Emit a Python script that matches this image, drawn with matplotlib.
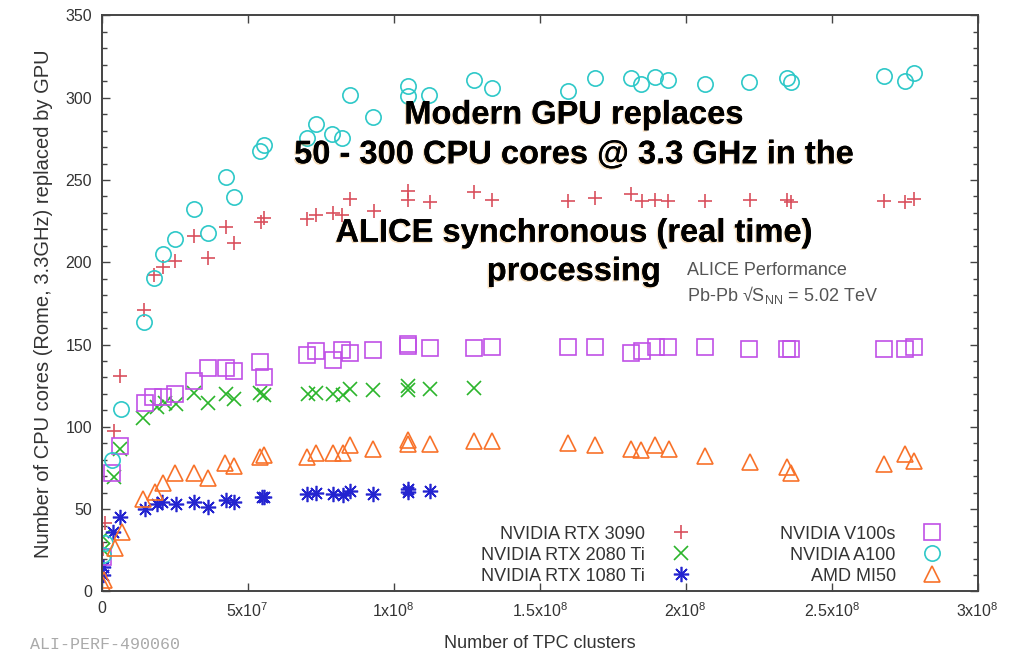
import numpy as np
import matplotlib
matplotlib.use('Agg')
from matplotlib import pyplot as plt
from matplotlib import patheffects

plt.rcParams['font.family'] = ['Liberation Sans', 'DejaVu Sans']
plt.rcParams['mathtext.default'] = 'regular'

# number of TPC clusters (in millions) and CPU cores replaced, per GPU
x3090 = [0.3, 1.1, 4.3, 6.3, 14.5, 18.0, 20.9, 25.1, 31.7, 36.4, 42.6, 45.2, 54.4, 55.6, 70.4, 73.4, 79.1, 82.4, 85.0,
         93.2, 104.8, 105.0, 112.3, 127.4, 133.7, 159.7, 168.8, 181.1, 184.9, 189.5, 194.0, 206.5, 221.9, 234.8,
         235.9, 267.9, 275.0, 278.3]
y3090 = [26, 41.8, 97.7, 131, 171, 192.3, 197.3, 201, 216, 202.8, 221.6, 211.5, 224.7, 226.7, 226.3, 229, 229.8,
         228.7, 238.3, 231.2, 243.5, 237.8, 236.6, 242.6, 238, 237, 239, 241.6, 237.5, 238, 237.5, 237.5, 238, 238,
         236.5, 237.5, 236.5, 238.6]

x2080 = [0.3, 0.6, 4.3, 6.3, 14.2, 18.8, 21.7, 25.4, 31.7, 36.5, 42.6, 45.3, 54.2, 55.6, 70.8, 73.4, 79.1, 82.5,
         85.0, 93.0, 105.0, 105.0, 112.4, 127.4]
y2080 = [25, 33, 69.7, 86.5, 105.2, 112.3, 114.3, 113.9, 120.4, 114.3, 119.8, 116.8, 120.4, 119.4, 119.8, 120.4,
         119.8, 119.4, 122.8, 122.4, 124.8, 122.4, 122.8, 123.4]

x1080 = [0.3, 0.5, 4.0, 6.3, 14.8, 18.8, 20.5, 25.4, 31.7, 36.5, 42.6, 45.3, 54.8, 55.6, 70.4, 73.4, 79.1, 82.5,
         85.0, 93.0, 105.0, 105.0, 112.4]
y1080 = [10, 15, 36.3, 45.4, 49.9, 53.2, 54.6, 53.2, 54.6, 51.5, 55.6, 54.6, 57.6, 57.6, 59.2, 60, 59.2, 58.6,
         61.2, 59.2, 62.1, 60.7, 61.2]

xv100 = [0.3, 3.6, 6.3, 14.8, 17.7, 20.9, 25.1, 31.7, 36.5, 42.6, 45.3, 54.2, 55.6, 70.4, 73.4, 79.1, 82.2, 85.0,
         93.0, 105.0, 105.0, 112.4, 127.4, 133.7, 159.7, 168.8, 181.1, 185.1, 189.7, 194.1, 206.5, 221.8, 234.8,
         236.2, 267.9, 275.0, 278.3]
yv100 = [21, 71.8, 88.4, 114.3, 118.3, 118.3, 120, 127.9, 135.6, 136, 134.1, 139.6, 130.5, 143.7, 146.3, 140.6,
         146.7, 144.7, 146.7, 150.2, 149, 147.7, 147.7, 148.3, 148.7, 148.3, 144.7, 146.1, 148.3, 148.3, 148.3,
         147.3, 147.3, 147.3, 147.3, 147.3, 148.3]

xa100 = [0.3, 1.1, 3.6, 6.6, 14.5, 18.0, 20.9, 25.1, 31.7, 36.4, 42.6, 45.2, 54.2, 55.6, 70.2, 73.4, 79.0, 82.4,
         85.0, 93.0, 104.8, 105.0, 112.2, 127.4, 133.7, 159.7, 168.8, 181.4, 184.7, 189.5, 193.9, 206.5, 221.8,
         234.8, 236.2, 267.9, 275.2, 278.3]
ya100 = [22, 29.3, 79.9, 110.7, 163.7, 190.6, 205, 214, 232.4, 218, 251.6, 239.5, 267.8, 271.3, 275.3, 283.8, 278,
         275.7, 301.6, 288, 307, 301, 301.5, 311, 306, 304, 312, 312.2, 308.6, 312.6, 311, 308.6, 309.6, 312, 309.6,
         313, 310, 314.7]

xmi50 = [0.5, 0.8, 4.6, 6.8, 14.2, 18.3, 20.9, 25.1, 31.7, 36.5, 42.2, 45.3, 54.2, 55.6, 70.4, 73.4, 79.1, 82.5,
         85.0, 93.0, 105.0, 105.0, 112.4, 127.4, 133.7, 159.7, 168.8, 181.1, 184.8, 189.5, 194.2, 206.5, 222.1,
         234.8, 236.2, 267.9, 275.0, 278.3]
ymi50 = [4, 7, 26.4, 36.3, 56.2, 60.6, 65.7, 71.8, 71.8, 68.8, 77.9, 76.4, 81.9, 82.9, 81.9, 84, 84, 84.3, 89,
         86.4, 92, 89.8, 89.6, 91.6, 91.6, 90, 89, 86.6, 86, 89, 86.6, 82.3, 78.9, 75.5, 71.8, 77.5, 83.5, 79.3]

xticks = [0, 5e7, 1e8, 1.5e8, 2e8, 2.5e8, 3e8]
xticklabels = ['0', '5x10$^7$', '1x10$^8$', '1.5x10$^8$', '2x10$^8$', '2.5x10$^8$', '3x10$^8$']

fig = plt.figure(figsize=(10.11, 6.54), dpi=100)
ax = fig.add_axes([0.1006, 0.0956, 0.8665, 0.8809])

series = [
    ('NVIDIA RTX 3090', x3090, y3090, '+', '#d9505e', 10),
    ('NVIDIA RTX 2080 Ti', x2080, y2080, 'x', '#2bb52b', 10),
    ('NVIDIA RTX 1080 Ti', x1080, y1080, (8, 2, 0), '#2424d0', 11),
    ('NVIDIA V100s', xv100, yv100, 's', '#c050e6', 11),
    ('NVIDIA A100', xa100, ya100, 'o', '#2ec8c8', 11),
    ('AMD MI50', xmi50, ymi50, '^', '#f8722a', 11),
]
for name, xs, ys, mk, col, ms in series:
    ax.plot(np.array(xs) * 1e6, ys, linestyle='none', marker=mk, markersize=ms,
            markerfacecolor='none', markeredgecolor=col, markeredgewidth=1.2, label=name)

ax.set_xlim(0, 3e8)
ax.set_ylim(0, 350)
ax.set_xticks(xticks)
ax.set_xticklabels(xticklabels)
ax.set_yticks(np.arange(0, 351, 50))
ax.set_yticks(np.arange(0, 351, 10), minor=True)
ax.tick_params(which='both', direction='in', top=True, right=True, colors='#444444',
               labelcolor='#333333', labelsize=11.5)
ax.tick_params(which='major', length=6, width=1)
ax.tick_params(which='minor', length=3.5, width=1)
ax.tick_params(axis='y', pad=7)
ax.tick_params(axis='x', pad=7)
for sp in ax.spines.values():
    sp.set_color('#444444')
    sp.set_linewidth(1.4)

ax.set_xlabel('Number of TPC clusters', fontsize=13, color='#333333', labelpad=11)
ax.set_ylabel('Number of CPU cores (Rome, 3.3GHz) replaced by GPU', fontsize=14.5, color='#333333', labelpad=9)

leg = ax.legend(loc='lower right', bbox_to_anchor=(0.958, 0.012), ncol=2, markerfirst=False, frameon=False,
                fontsize=13, handlelength=1.0, handletextpad=1.5, columnspacing=5.0, labelspacing=0.22,
                borderaxespad=0, borderpad=0)
for t in leg.get_texts():
    t.set_color('#333333')

shadow = [patheffects.withSimplePatchShadow(offset=(-1, -1), shadow_rgbFace='#e8a040', alpha=0.35),
          patheffects.Normal()]
big_lines = [('Modern GPU replaces', 0.827),
             ('50 - 300 CPU cores @ 3.3 GHz in the', 0.758),
             ('ALICE synchronous (real time)', 0.622),
             ('processing', 0.555)]
for txt, yy in big_lines:
    ax.text(0.539, yy, txt, transform=ax.transAxes, ha='center', va='center', fontsize=23.5,
            fontweight='bold', color='black', path_effects=shadow)

ax.text(0.668, 0.558, 'ALICE Performance', transform=ax.transAxes, fontsize=13, color='#555555', va='center')
ax.text(0.668, 0.514, 'Pb-Pb \u221aS$_{NN}$ = 5.02 TeV', transform=ax.transAxes, fontsize=13,
        color='#555555', va='center')

fig.text(0.03, 0.008, 'ALI-PERF-490060', fontsize=12, color='#aaaaaa', family='Liberation Mono')

fig.savefig('out.png', dpi=100)
